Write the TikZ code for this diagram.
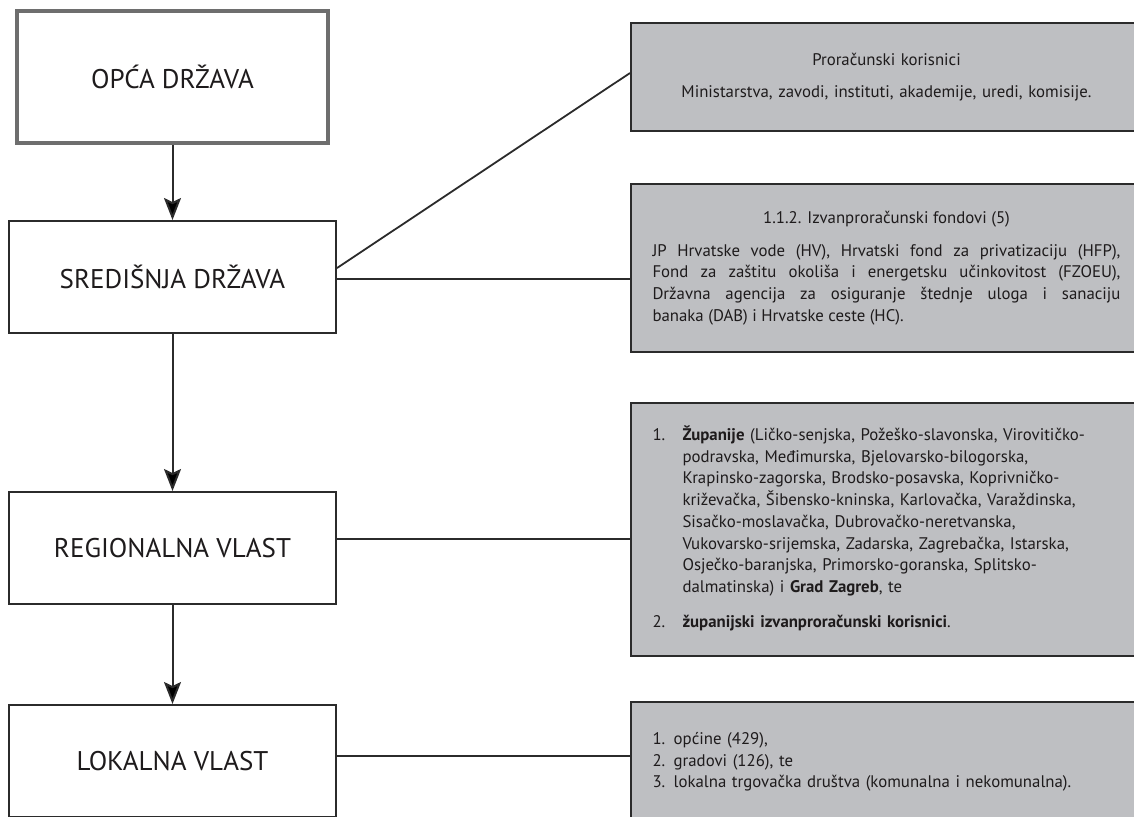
\documentclass[tikz,border=0pt]{standalone}
\usepackage{fontspec}
\setmainfont{PT Sans}
\usetikzlibrary{arrows.meta}
\definecolor{boxgray}{HTML}{BEBFC2}
\definecolor{inkgray}{HTML}{1E1B1C}
\definecolor{framegray}{HTML}{6E6E6E}
\definecolor{linegray}{HTML}{2B2B2B}
\begin{document}
\begin{tikzpicture}[x=0.5pt,y=-0.5pt,
  levelbox/.style={rectangle,draw=linegray,line width=1pt,fill=white,text=inkgray,
    minimum width=163.5pt,minimum height=56pt,font=\fontsize{13.5}{16}\selectfont},
  infobox/.style={rectangle,draw=linegray,line width=1pt,fill=boxgray,text=inkgray,
    minimum width=255.5pt,text width=234pt,inner sep=0pt,font=\fontsize{8.4}{10.85}\selectfont},
  levelarrow/.style={-{Stealth[length=11pt,width=8.5pt,inset=2pt]},draw=linegray,line width=1pt},
  sideline/.style={draw=linegray,line width=0.9pt}]
\useasboundingbox (0,0) rectangle (1134,816);
\clip (0,0) rectangle (1134,816);
% levels of government
\node (opca) [levelbox,draw=framegray,line width=1.7pt,minimum width=155.5pt,minimum height=66pt] at (172.5,77) {OPĆA DRŽAVA};
\node (sred) [levelbox] at (172.5,277) {SREDIŠNJA DRŽAVA};
\node (reg) [levelbox] at (172.5,548) {REGIONALNA VLAST};
\node (lok) [levelbox] at (172.5,761) {LOKALNA VLAST};
% grey boxes on the right
\node (prk) [infobox,minimum height=54pt,align=center] at (886.5,77) {Proračunski korisnici\\[5pt]
  Ministarstva, zavodi, instituti, akademije, uredi, komisije.};
\node (fond) [infobox,minimum height=84pt,align=justify] at (886.5,268) {{\centering 1.1.2. Izvanproračunski fondovi (5)\par}\vspace{5.5pt}
  \noindent JP Hrvatske vode (HV), Hrvatski fond za privatizaciju (HFP),\linebreak
  Fond za zaštitu okoliša i energetsku učinkovitost (FZOEU),\linebreak
  Državna agencija za osiguranje štednje uloga i sanaciju\linebreak
  banaka (DAB) i Hrvatske ceste (HC).};
\node (zup) [infobox,minimum height=126.5pt,align=left] at (886.5,529.5) {%
  \begin{tabular}{@{}p{15pt}@{}p{219pt}@{}}
  1. & \raggedright\textbf{Županije} (Ličko-senjska, Požeško-slavonska, Virovitičko-\newline
  podravska, Međimurska, Bjelovarsko-bilogorska,\newline
  Krapinsko-zagorska, Brodsko-posavska, Koprivničko-\newline
  križevačka, Šibensko-kninska, Karlovačka, Varaždinska,\newline
  Sisačko-moslavačka, Dubrovačko-neretvanska,\newline
  Vukovarsko-srijemska, Zadarska, Zagrebačka, Istarska,\newline
  Osječko-baranjska, Primorsko-goranska, Splitsko-\newline
  dalmatinska) i \textbf{Grad Zagreb}, te\tabularnewline[6.5pt]
  2. & \raggedright\textbf{županijski izvanproračunski korisnici}.\tabularnewline
  \end{tabular}};
\node (lokal) [infobox,minimum height=60pt,align=left] at (886.5,762) {1. općine (429),\\
  2. gradovi (126), te\\
  3. lokalna trgovačka društva (komunalna i nekomunalna).};
%
\coordinate (s1) at ([yshift=4.5pt]sred.east);
\coordinate (s2) at ([yshift=-1pt]sred.east);
\coordinate (r1) at ([yshift=4.5pt]reg.east);
\coordinate (l1) at ([yshift=2.5pt]lok.east);
\path[levelarrow] (opca) edge (sred);
\path[levelarrow] (sred) edge (reg);
\path[levelarrow] (reg) edge (lok);
\path[sideline] (s1) edge ([yshift=2pt]prk.west);
\path[sideline] (s2) edge (s2 -| fond.west);
\path[sideline] (r1) edge (r1 -| zup.west);
\path[sideline] (l1) edge (l1 -| lokal.west);
\end{tikzpicture}
\end{document}
